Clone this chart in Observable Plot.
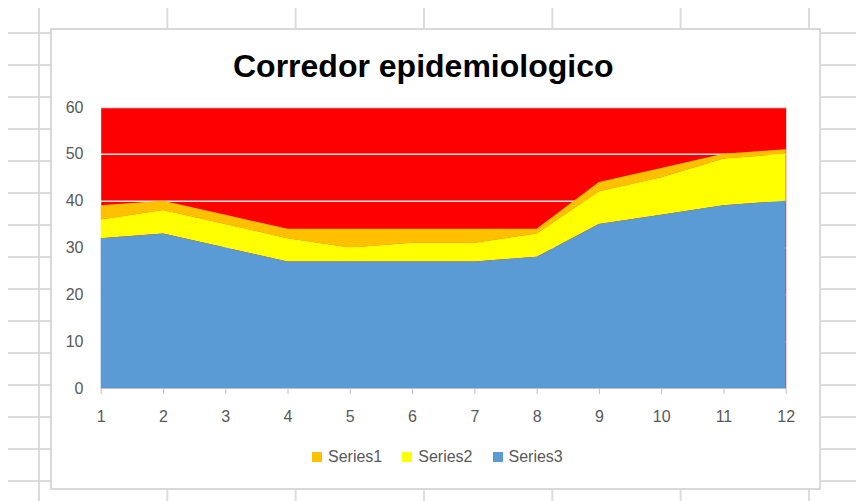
<!DOCTYPE html>
<html>
<head>
<meta charset="utf-8">
<script src="https://cdn.jsdelivr.net/npm/d3@7"></script>
<script src="https://cdn.jsdelivr.net/npm/@observablehq/plot@0.6"></script>
<style>
html, body { margin: 0; padding: 0; background: #fff; }
body { width: 856px; height: 501px; position: relative; overflow: hidden; font-family: "Liberation Sans", Arial, sans-serif; }
#sheet {
  position: absolute; left: 8px; top: 8px; right: 0; bottom: 0;
  background-image: linear-gradient(to right, #dcdcdc 2px, transparent 2px), linear-gradient(to bottom, #dcdcdc 2px, transparent 2px);
  background-size: 128.33px 32px;
  background-position: 30px 24px;
}
#box {
  position: absolute; left: 50px; top: 28px; width: 771px; height: 462px;
  box-sizing: border-box; border: 2px solid #d9d9d9; background: #fff;
}
#chart { position: absolute; left: 0; top: 0; }
#title {
  position: absolute; left: 233px; top: 49.6px; white-space: nowrap;
  font: bold 32px/32px "Liberation Sans", Arial, sans-serif; color: #000;
}
#legend { position: absolute; left: 312px; top: 445px; }
#legend div { font-family: "Liberation Sans", Arial, sans-serif !important; font-size: 16px !important; color: #595959 !important; margin: 0 !important; min-height: 24px !important; }
#legend span { margin-right: 20px !important; display: inline-flex; align-items: center; }
#legend svg { margin-right: 6px !important; }
</style>
</head>
<body>
<div id="sheet"></div>
<div id="box"></div>
<div id="chart"></div>
<div id="title"></div>
<div id="legend"></div>
<script>
const months = [1, 2, 3, 4, 5, 6, 7, 8, 9, 10, 11, 12];
const series1 = [3, 2, 2, 2, 4, 3, 3, 1, 2, 2, 1, 1];
const series2 = [4, 5, 5, 5, 3, 4, 4, 5, 7, 8, 10, 10];
const series3 = [32, 33, 30, 27, 27, 27, 27, 28, 35, 37, 39, 40];
const seriesNames = ["Series1", "Series2", "Series3"];
const seriesColors = ["#FFC000", "#FFFF00", "#5B9BD5"];
const yTicks = [0, 10, 20, 30, 40, 50, 60];
const titleText = "Corredor epidemiologico";

const data = [];
[series1, series2, series3].forEach((vals, i) =>
  vals.forEach((v, j) => data.push({month: months[j], value: v, series: seriesNames[i]}))
);

const chart = Plot.plot({
  width: 856,
  height: 501,
  marginLeft: 100.7,
  marginRight: 70.3,
  marginTop: 107,
  marginBottom: 113,
  style: {background: "transparent", fontFamily: "Liberation Sans, Arial, sans-serif"},
  x: {domain: [1, 12], label: null},
  y: {domain: [0, 60], label: null},
  color: {domain: seriesNames, range: seriesColors},
  marks: [
    Plot.frame({fill: "#FF0000", stroke: null}),
    Plot.ruleY(yTicks.slice(1), {stroke: "#e6e6e6", strokeWidth: 1.5}),
    Plot.areaY(data, Plot.stackY({x: "month", y: "value", fill: "series", order: ["Series3", "Series2", "Series1"]})),
    Plot.ruleY([0], {stroke: "#bfbfbf"}),
    Plot.axisX(months, {tickSize: 6, tickPadding: 16, stroke: "#bfbfbf", fill: "#595959", fontSize: 16}),
    Plot.axisY(yTicks, {tickSize: 0, tickPadding: 17.7, fill: "#595959", fontSize: 16})
  ]
});
document.getElementById("chart").appendChild(chart);
document.getElementById("title").textContent = titleText;

const legend = Plot.legend({
  color: {domain: seriesNames, range: seriesColors},
  legend: "swatches",
  swatchSize: 10
});
document.getElementById("legend").appendChild(legend);
</script>
</body>
</html>
